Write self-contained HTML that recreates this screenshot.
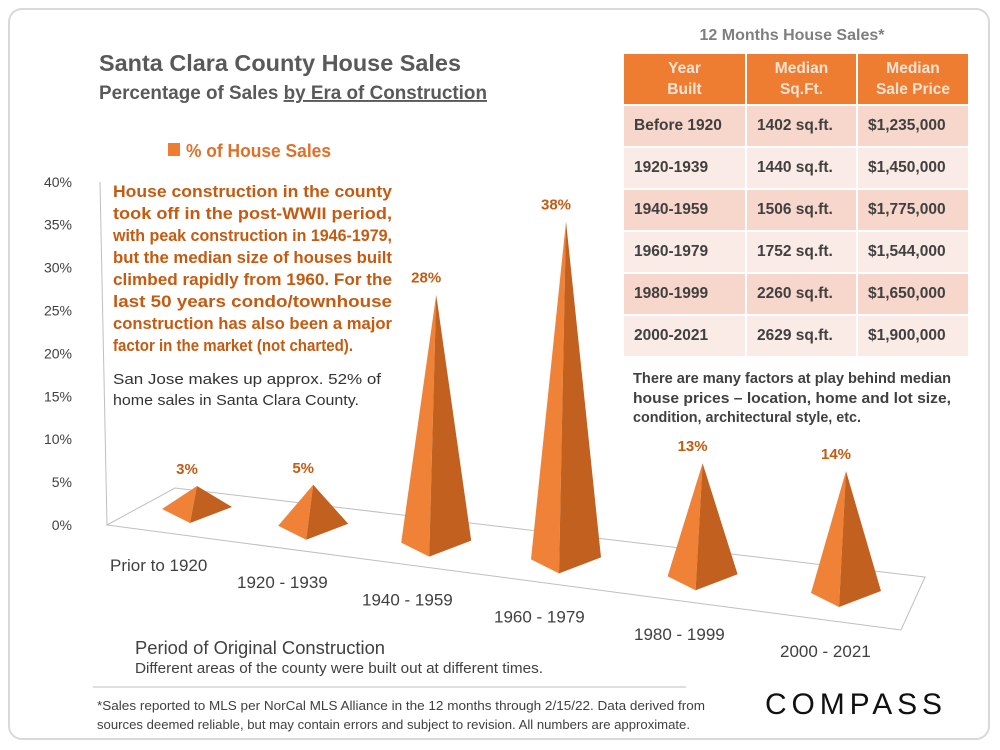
<!DOCTYPE html>
<html><head><meta charset="utf-8"><style>
body{margin:0;width:1000px;height:750px;background:#fff;overflow:hidden;font-family:"Liberation Sans",sans-serif}
#frame{position:absolute;left:8px;top:8px;width:982px;height:732px;border:2px solid #d9d9d9;border-radius:14px;box-sizing:border-box}
table{position:absolute;left:622px;top:52px;border-collapse:collapse;font-weight:bold;font-size:15.5px;color:#404040}
td,th{border:2px solid #fff;padding:0 0 0 10px;height:40px;text-align:left}
th{background:#ee7d31;color:#fbe3d3;text-align:center;font-size:15.5px;line-height:21px;height:50px;padding:0}
tr.a td{background:#f7d7cb}tr.b td{background:#fbebe6}
</style></head><body>
<div id="frame"></div>
<svg width="1000" height="750" style="position:absolute;left:0;top:0">
<text x="99" y="71" font-size="23" font-weight="bold" fill="#595959" textLength="362" lengthAdjust="spacingAndGlyphs">Santa Clara County House Sales</text>
<text x="99" y="99" font-size="19" font-weight="bold" fill="#595959" textLength="388" lengthAdjust="spacingAndGlyphs">Percentage of Sales <tspan text-decoration="underline">by Era of Construction</tspan></text>
<rect x="168" y="143" width="12" height="13" fill="#ee7d31"/>
<text x="186" y="157" font-size="18" font-weight="bold" fill="#e07028" textLength="145" lengthAdjust="spacingAndGlyphs">% of House Sales</text>
<g font-size="16.5" font-weight="bold" fill="#c55a11">
<text x="113" y="197" textLength="279" lengthAdjust="spacingAndGlyphs">House construction in the county</text>
<text x="113" y="219" textLength="279" lengthAdjust="spacingAndGlyphs">took off in the post-WWII period,</text>
<text x="113" y="241" textLength="279" lengthAdjust="spacingAndGlyphs">with peak construction in 1946-1979,</text>
<text x="113" y="263" textLength="279" lengthAdjust="spacingAndGlyphs">but the median size of houses built</text>
<text x="113" y="285" textLength="279" lengthAdjust="spacingAndGlyphs">climbed rapidly from 1960. For the</text>
<text x="113" y="307" textLength="279" lengthAdjust="spacingAndGlyphs">last 50 years condo/townhouse</text>
<text x="113" y="329" textLength="279" lengthAdjust="spacingAndGlyphs">construction has also been a major</text>
<text x="113" y="351" textLength="240" lengthAdjust="spacingAndGlyphs">factor in the market (not charted).</text>
</g>
<g font-size="15" fill="#333">
<text x="113" y="384" textLength="268" lengthAdjust="spacingAndGlyphs">San Jose makes up approx. 52% of</text>
<text x="113" y="405" textLength="246" lengthAdjust="spacingAndGlyphs">home sales in Santa Clara County.</text>
</g>
<g font-size="15" font-weight="bold" fill="#404040">
<text x="633" y="383" textLength="318" lengthAdjust="spacingAndGlyphs">There are many factors at play behind median</text>
<text x="633" y="403" textLength="318" lengthAdjust="spacingAndGlyphs">house prices – location, home and lot size,</text>
<text x="633" y="422" textLength="228" lengthAdjust="spacingAndGlyphs">condition, architectural style, etc.</text>
</g>
<text x="792" y="40" text-anchor="middle" font-size="16" font-weight="bold" fill="#7f7f7f">12 Months House Sales*</text>
<g id="plot"></g>
<text x="135" y="654" font-size="18" fill="#404040" textLength="250" lengthAdjust="spacingAndGlyphs">Period of Original Construction</text>
<text x="135" y="673" font-size="14.5" fill="#404040" textLength="408" lengthAdjust="spacingAndGlyphs">Different areas of the county were built out at different times.</text>
<line x1="93" y1="687" x2="686" y2="687" stroke="#bfbfbf"/>
<g font-size="13" fill="#404040">
<text x="97" y="710" textLength="608" lengthAdjust="spacingAndGlyphs">*Sales reported to MLS per NorCal MLS Alliance in the 12 months through 2/15/22.  Data derived from</text>
<text x="97" y="729" textLength="593" lengthAdjust="spacingAndGlyphs">sources deemed reliable, but may contain errors and subject to revision. All numbers are approximate.</text>
</g>
<text x="765" y="714" font-size="30" fill="#111" textLength="180" letter-spacing="3">COMPASS</text>
</svg>
<table>
<tr><th style="width:121px">Year<br>Built</th><th style="width:109px">Median<br>Sq.Ft.</th><th style="width:110px">Median<br>Sale Price</th></tr>
<tr class="a"><td>Before 1920</td><td>1402 sq.ft.</td><td>$1,235,000</td></tr>
<tr class="b"><td>1920-1939</td><td>1440 sq.ft.</td><td>$1,450,000</td></tr>
<tr class="a"><td>1940-1959</td><td>1506 sq.ft.</td><td>$1,775,000</td></tr>
<tr class="b"><td>1960-1979</td><td>1752 sq.ft.</td><td>$1,544,000</td></tr>
<tr class="a"><td>1980-1999</td><td>2260 sq.ft.</td><td>$1,650,000</td></tr>
<tr class="b"><td>2000-2021</td><td>2629 sq.ft.</td><td>$1,900,000</td></tr>
</table>
<script>
const categories=["Prior to 1920","1920 - 1939","1940 - 1959","1960 - 1979","1980 - 1999","2000 - 2021"];
const salesPct=[3,5,28,38,13,14];
const yTicks=[0,5,10,15,20,25,30,35,40];
const NS="http://www.w3.org/2000/svg";
const g=document.getElementById('plot');
function mk(t,a){const e=document.createElementNS(NS,t);for(const k in a)e.setAttribute(k,a[k]);g.appendChild(e);return e;}
const yScale=v=>525-v*8.58;
let f=mk('polygon',{points:"107,525 175,488 925,577 901,630",fill:"none",stroke:"#bfbfbf"});


let ax=mk('line',{x1:100,y1:182,x2:107,y2:525,stroke:"#bfbfbf"});


yTicks.forEach(v=>{
 const t=mk('text',{x:72,y:yScale(v)+5,'text-anchor':'end','font-size':14,fill:'#404040'});
 t.textContent=v+'%';
 
 
});
// perspective position along the floor
const xPos=i=>197+112.8*i+3.4*i*i;
const baseY=i=>513+i*16.8;
const labX=[110,237,362,494,634,780];
categories.forEach((c,i)=>{
 const cx=xPos(i),by=baseY(i),w=70,top=by-salesPct[i]*9;
 const L=[cx-w/2,by-4],F=[cx-w*0.1,by+10],R=[cx+w/2,by-6];
 const p1=mk('polygon',{points:`${cx},${top} ${L} ${F}`,fill:'#f08238'});
 
 
 const p2=mk('polygon',{points:`${cx},${top} ${F} ${R}`,fill:'#c2601f'});
 
 
 const vl=mk('text',{x:cx-10,y:top-12,'text-anchor':'middle','font-size':15,'font-weight':'bold',fill:'#c55a11'});
 vl.textContent=salesPct[i]+'%';
 
 
 const cl=mk('text',{x:labX[i],y:571+i*17.2,'font-size':17,fill:'#404040'});
 cl.textContent=c;
 
 
});
</script>
</body></html>
